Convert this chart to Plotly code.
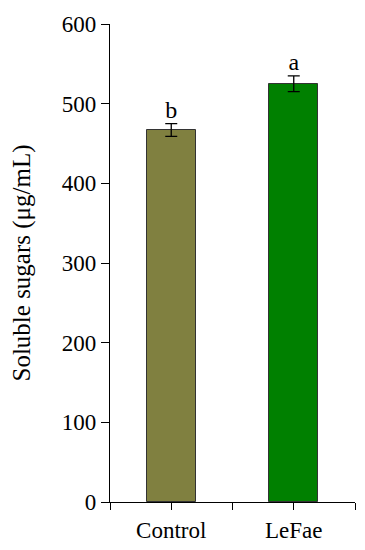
import plotly.graph_objects as go

# data
groups = ['Control', 'LeFae']
sugars = [467, 525]
sugars_sd = [8, 10]
letters = ['b', 'a']
colors = ['#808040', '#008000']

xpos = [i + 1 for i in range(len(groups))]
font = 'Liberation Serif, Times New Roman, serif'

fig = go.Figure()

fig.add_trace(go.Bar(
    x=xpos, y=sugars, width=0.4,
    marker=dict(color=colors, line=dict(color='#333333', width=1)),
    error_y=dict(type='data', array=sugars_sd, color='black', thickness=1.3, width=6),
    showlegend=False
))

# significance letters above the error bars
fig.add_trace(go.Scatter(
    x=xpos, y=[m + s for m, s in zip(sugars, sugars_sd)],
    mode='text', text=letters, textposition='top center',
    textfont=dict(family=font, size=24, color='black'),
    showlegend=False, hoverinfo='skip'
))

# the page body adds an 8px offset, so the figure is 8px smaller
fig.update_layout(
    width=357, height=542,
    margin=dict(l=102, r=10, t=16, b=48, autoexpand=False),
    plot_bgcolor='white', paper_bgcolor='white',
    font=dict(family=font, size=23, color='black'),
    bargap=0
)

fig.update_xaxes(
    range=[0.5, 2.5], automargin=False,
    tickvals=[0.5, 1, 1.5, 2, 2.5],
    ticktext=['', groups[0], '', groups[1], ''],
    ticks='outside', ticklen=7, tickwidth=1.3, tickcolor='black',
    showline=True, linecolor='black', linewidth=1.3,
    showgrid=False, zeroline=False,
    tickfont=dict(size=23)
)
fig.update_yaxes(
    range=[0, 600], dtick=100, automargin=False,
    ticks='outside', ticklen=8, tickwidth=1.3, tickcolor='black',
    showline=True, linecolor='black', linewidth=1.3,
    showgrid=False, zeroline=False,
    tickfont=dict(size=23),
    title=dict(text='Soluble sugars (μg/mL)', font=dict(size=25), standoff=25)
)

fig.write_html('out.html')
